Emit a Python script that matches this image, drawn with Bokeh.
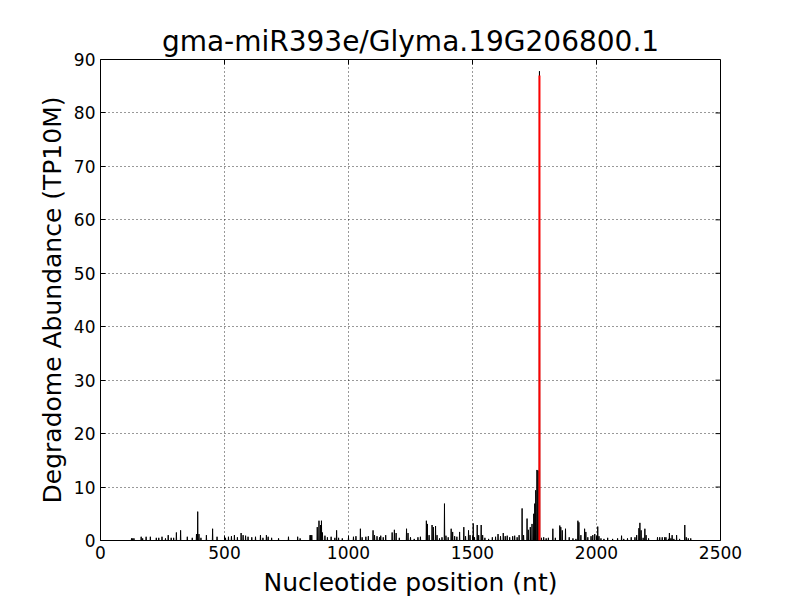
import math
import numpy as np
from bokeh.plotting import figure
from bokeh.models import Range1d, FixedTicker
from bokeh.embed import file_html
from bokeh.resources import INLINE

# ---- data ----
transcript_length = 2390
peak_pos = [125, 130, 135, 164, 170, 184, 201, 225, 235, 248, 262, 273, 285, 295, 306, 323, 350, 370,
            387, 392, 397, 405, 427, 452, 470,
            504, 516, 528, 540, 552, 567, 575, 585, 595, 610, 625, 645, 655, 669, 676, 690, 718, 758, 795, 805,
            845, 848, 852, 874, 881, 887, 891, 895, 905, 915, 930, 945, 952, 960, 975, 1000, 1020, 1030,
            1048, 1055, 1070, 1080, 1099, 1105, 1115, 1125, 1130, 1140, 1150, 1176, 1185, 1192, 1205, 1234, 1240, 1250, 1265,
            1280, 1290, 1314, 1318, 1325, 1337, 1342, 1351, 1357, 1367, 1377, 1387, 1393, 1402, 1414, 1420, 1428, 1437,
            1448, 1465, 1472, 1484, 1490, 1503, 1508, 1519, 1525, 1535, 1541, 1550, 1565, 1580, 1593, 1603, 1613,
            1624, 1632, 1640, 1650, 1662, 1670, 1680, 1688,
            1700, 1706, 1720, 1725, 1733, 1740, 1747, 1751, 1755, 1760, 1764, 1770, 1778, 1787, 1797, 1806,
            1824, 1834, 1852, 1856, 1862, 1875, 1890, 1905, 1917, 1925, 1929, 1937, 1952, 1957, 1965, 1978, 1985,
            1993, 2005, 2010, 2018, 2030, 2045, 2065, 2085,
            2101, 2110, 2125, 2140, 2155, 2162, 2171, 2175, 2180, 2188, 2195, 2200, 2210, 2246, 2255, 2265, 2275, 2280,
            2290, 2294, 2300, 2305, 2312, 2323, 2335, 2356, 2362, 2370, 2380]
peak_val = [0.4, 0.4, 0.4, 0.7, 0.4, 0.7, 0.7, 0.5, 0.5, 0.7, 0.4, 1.0, 0.5, 0.5, 1.5, 1.9, 0.7, 0.5,
            1.2, 5.4, 1.2, 0.5, 1.0, 2.2, 0.7,
            0.5, 0.7, 0.8, 1.0, 0.6, 1.4, 1.0, 0.9, 0.7, 0.6, 0.7, 1.0, 0.5, 1.0, 0.7, 0.5, 0.4, 0.7, 0.7, 0.4,
            1.0, 1.0, 1.0, 2.5, 3.7, 2.9, 3.7, 1.5, 0.9, 0.6, 0.7, 0.5, 1.9, 0.5, 0.4, 0.6, 0.7, 0.8,
            2.2, 0.6, 0.7, 0.8, 1.9, 1.0, 0.8, 0.6, 0.9, 0.6, 1.0, 1.5, 2.0, 1.4, 0.5, 2.2, 1.4, 0.6, 0.3,
            0.6, 0.7, 3.7, 3.1, 1.0, 2.9, 2.5, 2.7, 1.0, 0.4, 0.6, 6.9, 0.9, 0.6, 2.2, 1.6, 0.8, 0.7,
            1.6, 2.5, 0.8, 1.9, 1.0, 3.2, 0.6, 2.9, 1.0, 2.9, 1.0, 0.5, 0.3, 0.6, 0.7, 1.2, 0.8,
            1.4, 0.8, 0.9, 0.6, 0.8, 0.9, 0.6, 1.0,
            6.0, 1.0, 4.1, 2.0, 2.5, 3.1, 5.0, 6.9, 9.4, 13.2, 13.1, 87.8, 0.5, 0.6, 0.4, 0.5,
            2.2, 0.5, 2.8, 2.5, 1.9, 2.2, 0.6, 0.4, 0.3, 3.7, 3.4, 1.0, 2.2, 1.6, 0.6, 0.8, 1.0,
            1.2, 2.6, 0.8, 0.4, 0.3, 0.5, 0.3, 0.4,
            0.9, 0.3, 0.4, 0.6, 0.6, 1.0, 2.3, 3.3, 1.9, 0.5, 2.2, 1.0, 0.4, 0.6, 0.6, 0.6, 0.6, 0.6,
            0.3, 1.4, 0.4, 1.0, 0.3, 1.0, 0.3, 2.9, 0.6, 0.4, 0.4]
cleavage_pos = [1770]
cleavage_val = [87.0]
x_min, x_max = 0, 2500
y_min, y_max = 0, 90
x_ticks = [0, 500, 1000, 1500, 2000, 2500]
y_ticks = [0, 10, 20, 30, 40, 50, 60, 70, 80, 90]

positions = np.arange(1, transcript_length + 1)
abundance = np.zeros(transcript_length)
abundance[np.array(peak_pos) - 1] = peak_val

FONT = "DejaVu Sans"

p = figure(output_backend="svg", toolbar_location=None,
           frame_width=620, frame_height=481,
           min_border_left=100, min_border_right=80, min_border_top=59, min_border_bottom=60,
           x_range=Range1d(x_min, x_max), y_range=Range1d(y_min, y_max),
           title="gma-miR393e/Glyma.19G206800.1")

p.title.align = "center"
p.title.text_font = FONT
p.title.text_font_size = "28px"
p.title.text_font_style = "normal"
p.title.text_color = "black"
p.title.standoff = 4

p.background_fill_color = "white"
p.border_fill_color = "white"
p.outline_line_color = "black"
p.outline_line_width = 1

for g, t in ((p.xgrid[0], x_ticks), (p.ygrid[0], y_ticks)):
    g.ticker = FixedTicker(ticks=t)
    g.grid_line_color = "black"
    g.grid_line_dash = "1 3"
    g.grid_line_width = 1
    g.grid_line_alpha = 0.8

p.line(positions, abundance, line_color="black", line_width=1)
p.segment(x0=cleavage_pos, y0=[0] * len(cleavage_pos), x1=cleavage_pos, y1=cleavage_val,
          line_color="red", line_width=2)

for ax in (p.xaxis[0], p.yaxis[0]):
    ax.major_label_text_font = FONT
    ax.major_label_text_font_size = "17px"
    ax.major_label_text_color = "black"
    ax.axis_label_text_font = FONT
    ax.axis_label_text_font_size = "25px"
    ax.axis_label_text_font_style = "normal"
    ax.axis_label_text_color = "black"
    ax.axis_line_color = None
    ax.major_tick_in = 5
    ax.major_tick_out = 0
    ax.major_tick_line_color = "black"
    ax.minor_tick_line_color = None

p.xaxis[0].ticker = FixedTicker(ticks=x_ticks)
p.yaxis[0].ticker = FixedTicker(ticks=y_ticks)
p.xaxis[0].axis_label = "Nucleotide position (nt)"
p.yaxis[0].axis_label = "Degradome Abundance (TP10M)"
p.xaxis[0].major_label_standoff = 5
p.yaxis[0].major_label_standoff = 5
p.xaxis[0].axis_label_standoff = 6
p.yaxis[0].axis_label_standoff = 4

# inward ticks on the top and right edges (screen-length rays from the tick positions)
p.ray(x=x_ticks, y=[y_max] * len(x_ticks), length=5, length_units="screen",
      angle=-math.pi / 2, line_color="black", line_width=1)
p.ray(x=[x_max] * len(y_ticks), y=y_ticks, length=5, length_units="screen",
      angle=math.pi, line_color="black", line_width=1)

open("out.html", "w").write(file_html(p, INLINE))
